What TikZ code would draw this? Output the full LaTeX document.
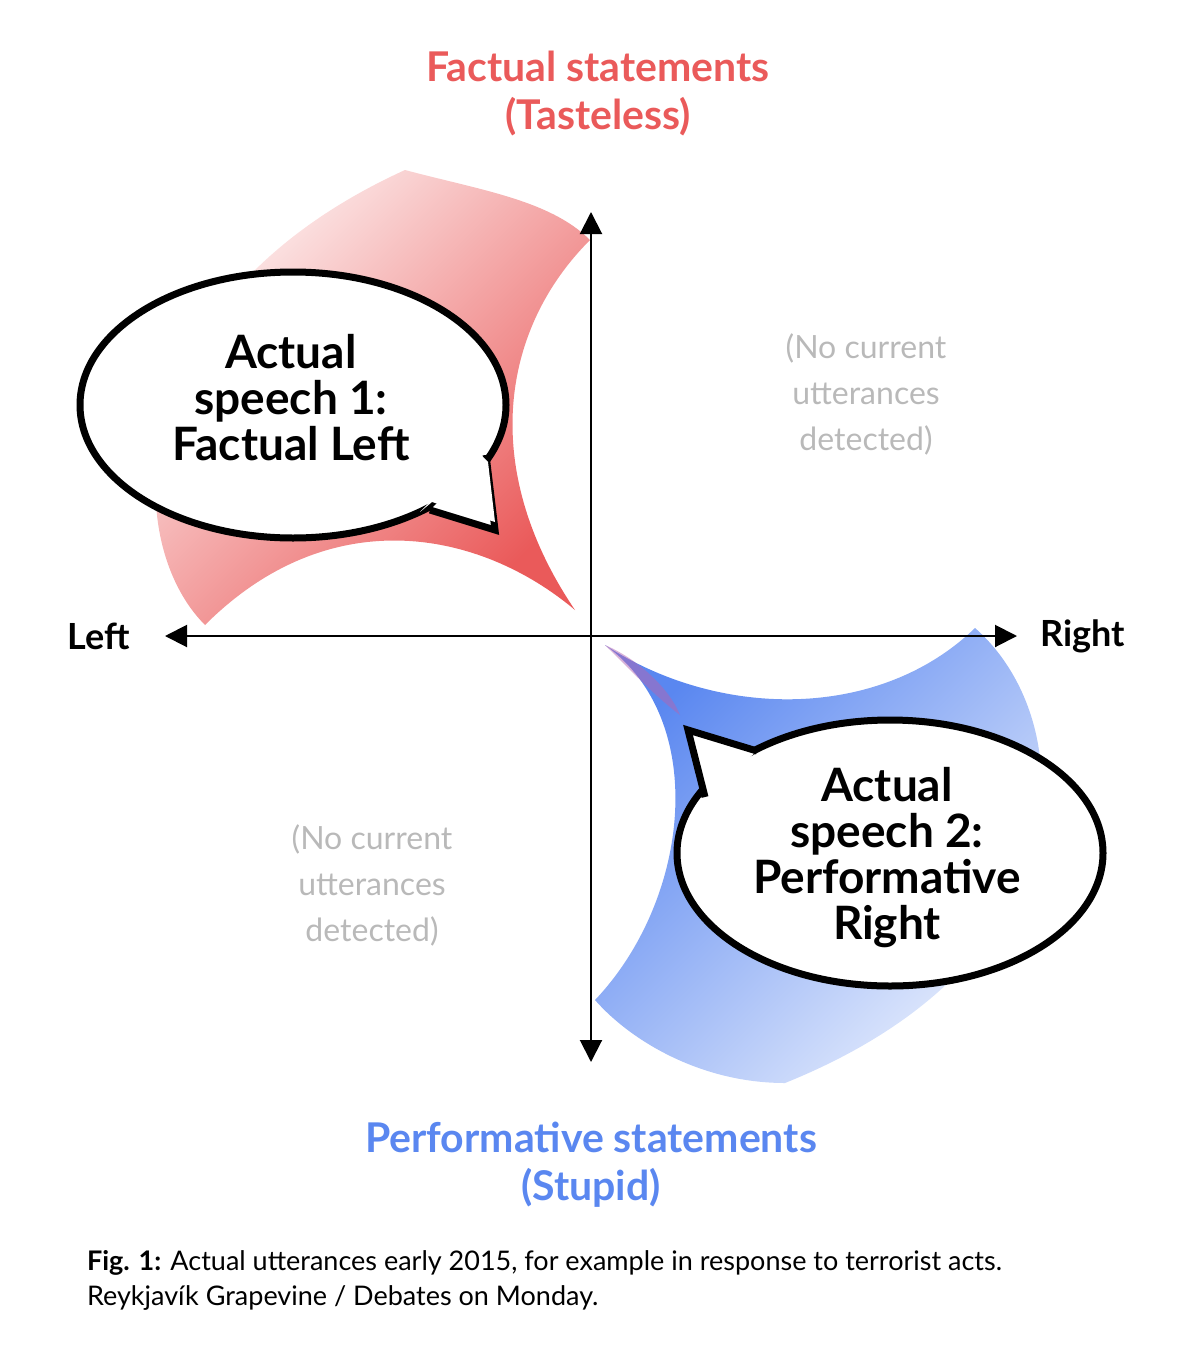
\documentclass[tikz,border=0pt]{standalone}
\usepackage{fontspec}
\setmainfont{Lato}
\usetikzlibrary{shapes.geometric,arrows.meta}
\definecolor{factred}{RGB}{234,90,90}
\definecolor{perfblue}{RGB}{90,135,240}
\definecolor{softgrey}{RGB}{185,185,185}
\begin{document}
\begin{tikzpicture}[x=0.5pt,y=-0.5pt,
    axis/.style={line width=1pt,-{Triangle[length=11pt,width=11pt]}},
    bubble/.style={draw,fill=white,line width=3.5pt,ellipse,
        minimum width=213pt,minimum height=133pt,align=center,
        font=\bfseries\fontsize{22}{23}\selectfont},
    grey/.style={text=softgrey,align=center,font=\fontsize{16}{23}\selectfont}]
            \useasboundingbox (0,0) rectangle (1200,1365);
            % blobs
            \shade[top color=factred!5,bottom color=factred,shading angle=45]
                (205,625) .. controls (120,540) and (120,300) .. (405,170)
                .. controls (480,190) and (550,200) .. (590,240)
                .. controls (500,330) and (480,470) .. (575,610)
                .. controls (480,530) and (330,500) .. (205,625) -- cycle;
            \shade[top color=perfblue,bottom color=perfblue!10,shading angle=45]
                (605,645) .. controls (720,720) and (880,720) .. (975,628)
                .. controls (1080,720) and (1090,960) .. (785,1083)
                .. controls (700,1083) and (630,1040) .. (595,1000)
                .. controls (690,900) and (710,720) .. (605,645) -- cycle;
            \fill[violet!60,opacity=0.5] (605,645) .. controls (640,660) and (670,690) .. (680,715)
                .. controls (660,700) and (640,680) .. (605,645);
            % axes
            \node[coordinate] (origin) at (591,636) {};
            \node[coordinate] (leftend) at (165,636) {};
            \node[coordinate] (rightend) at (1017,636) {};
            \node[coordinate] (topend) at (591,212) {};
            \node[coordinate] (bottomend) at (591,1062) {};
            \draw[axis] (origin) -- (leftend);
            \draw[axis] (origin) -- (rightend);
            \draw[axis] (origin) -- (topend);
            \draw[axis] (origin) -- (bottomend);
            \node[anchor=east,font=\bfseries\fontsize{18}{20}\selectfont] (left) at (137,636) {Left};
            \node[anchor=west,font=\bfseries\fontsize{18}{20}\selectfont] (right) at (1033,636) {Right};
            % titles
            \node[text=factred,align=center,font=\bfseries\fontsize{20.5}{24}\selectfont]
                (fact) at (598,94) {Factual statements\\(Tasteless)};
            \node[text=perfblue,align=center,font=\bfseries\fontsize{20.5}{24}\selectfont]
                (perf) at (591,1165) {Performative statements\\(Stupid)};
            % bubbles
            \node[bubble] (speech1) at (293,405) {};
            \filldraw[fill=white,line width=3.5pt,line join=miter]
                (486,455) -- (495,530) -- (430,510);
            \fill[white] (478,452) -- (488,462) -- (495,522) -- (432,502) -- (420,512) -- cycle;
            \node[align=center,font=\bfseries\fontsize{23}{23}\selectfont] (text1) at (291,398)
                {Actual\\speech 1:\\Factual Left};
            \node[bubble] (speech2) at (890,853) {};
            \filldraw[fill=white,line width=3.5pt,line join=miter]
                (705,797) -- (688,730) -- (757,751);
            \fill[white] (712,805) -- (697,740) -- (750,757) -- (766,762) -- (700,812) -- cycle;
            \node[align=center,font=\bfseries\fontsize{23}{23}\selectfont] (text2) at (887,858)
                {Actual\\speech 2:\\Performative\\Right};
            % empty quadrants
            \node[grey] (emptyTR) at (866,394) {(No current\\utterances\\detected)};
            \node[grey] (emptyBL) at (372,885) {(No current\\utterances\\detected)};
            % caption
            \node[anchor=north west,align=left,font=\fontsize{13.5}{17.5}\selectfont] (caption) at (80,1243)
                {\textbf{Fig. 1:} Actual utterances early 2015, for example in response to terrorist acts.\\Reykjavík Grapevine / Debates on Monday.};
        \end{tikzpicture}
\end{document}
